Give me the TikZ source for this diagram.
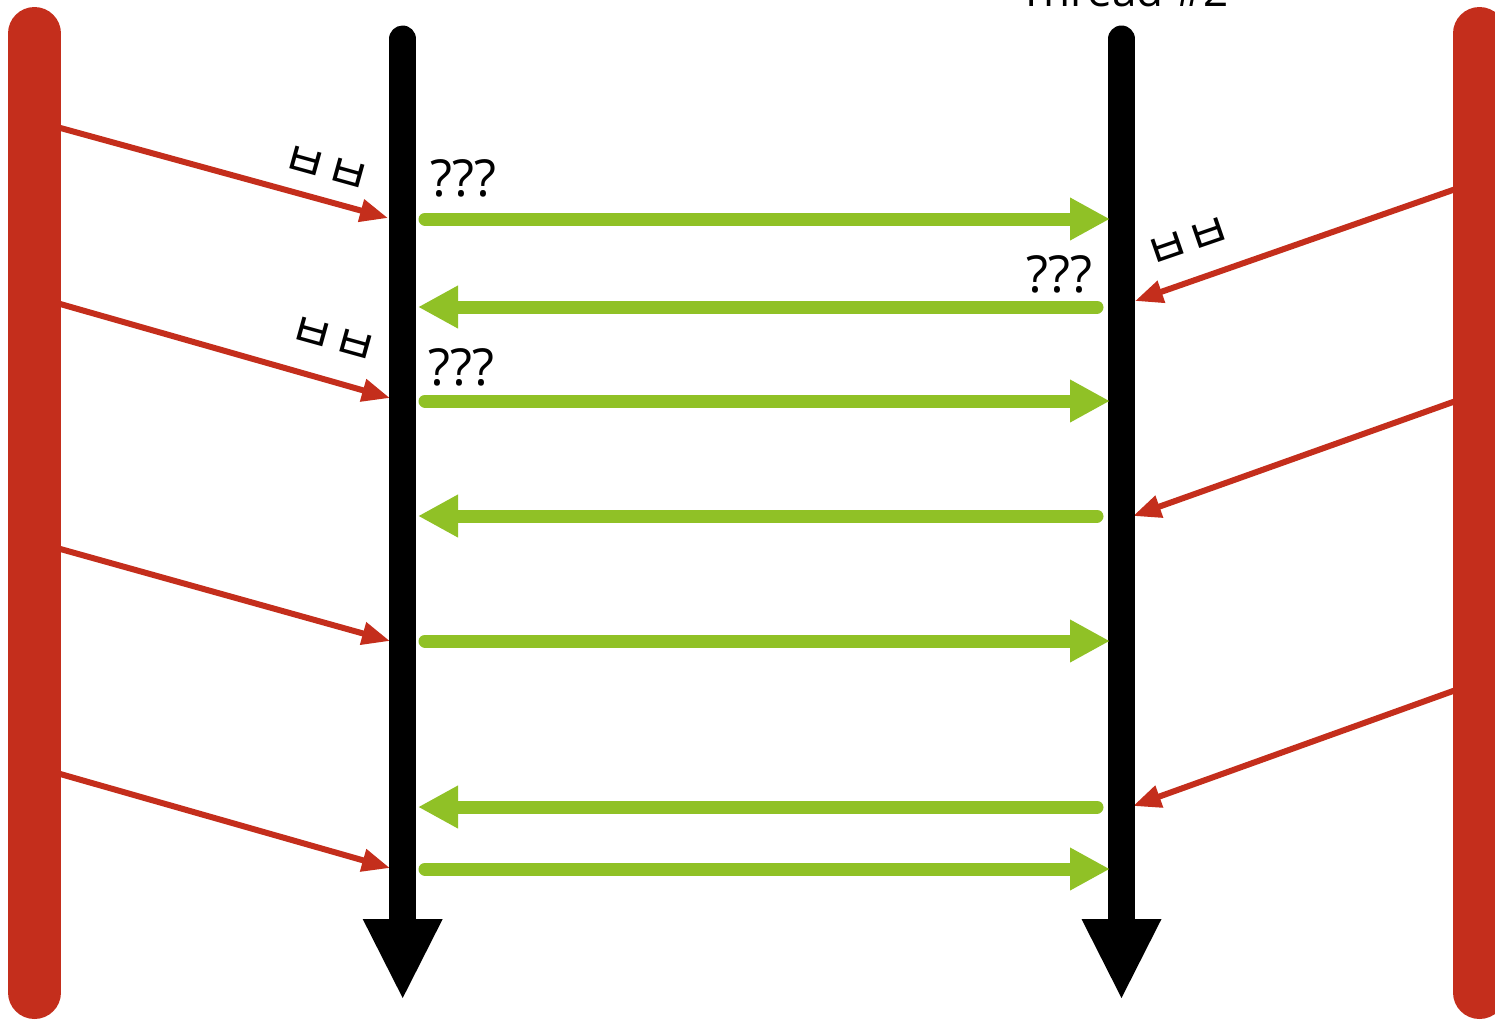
\documentclass[tikz,border=0pt]{standalone}
\usepackage{fontspec}
\setmainfont{Open Sans}
\newfontfamily\krfont{Noto Sans CJK KR}
\usetikzlibrary{arrows.meta}
\definecolor{myred}{RGB}{196,46,28}
\definecolor{mygreen}{RGB}{144,193,38}
\tikzset{
  sidebar/.style={draw=myred,line width=26.5pt,line cap=round},
  threadline/.style={draw=black,line width=13.5pt,line cap=round},
  threadhead/.style={fill=black},
  greenarrow/.style={draw=mygreen,line width=6.5pt,line cap=round,-{Triangle[length=20pt,width=20pt]}},
  redarrow/.style={draw=myred,line width=3pt,-{Triangle[length=14pt,width=11pt]}},
  qlabel/.style={anchor=base west,inner sep=0pt,font=\fontsize{25.5pt}{28pt}\selectfont},
  tlabel/.style={anchor=base,inner sep=0pt,font=\fontsize{22pt}{26pt}\selectfont},
  krlabel/.style={inner sep=0pt,font=\krfont\fontsize{24pt}{28pt}\selectfont},
}
\begin{document}
\begin{tikzpicture}[x=0.5pt,y=-0.5pt]
\useasboundingbox (0,0) rectangle (1495,1019);
% coordinates
\coordinate (LBtop) at (34.5,33.5);
\coordinate (LBbot) at (34.5,992.5);
\coordinate (RBtop) at (1479.5,33.5);
\coordinate (RBbot) at (1479.5,992.5);
\coordinate (T1top) at (402.7,39);
\coordinate (T1base) at (402.7,919);
\coordinate (T1bot) at (402.7,998);
\coordinate (T2top) at (1121.5,39);
\coordinate (T2base) at (1121.5,919);
\coordinate (T2bot) at (1121.5,998);
% red arrows left
\coordinate (la1) at (55,126.5); \coordinate (lb1) at (388,218);
\coordinate (la2) at (55,302.5); \coordinate (lb2) at (390,398);
\coordinate (la3) at (55,547.5); \coordinate (lb3) at (390,641);
\coordinate (la4) at (55,772.5); \coordinate (lb4) at (390,868);
% red arrows right
\coordinate (ra1) at (1460,187.5); \coordinate (rb1) at (1135,301);
\coordinate (ra2) at (1460,399.5); \coordinate (rb2) at (1133,516);
\coordinate (ra3) at (1460,688.5); \coordinate (rb3) at (1133,806);
\draw[redarrow] (la1) -- (lb1);
\draw[redarrow] (la2) -- (lb2);
\draw[redarrow] (la3) -- (lb3);
\draw[redarrow] (la4) -- (lb4);
\draw[redarrow] (ra1) -- (rb1);
\draw[redarrow] (ra2) -- (rb2);
\draw[redarrow] (ra3) -- (rb3);
% side bars
\draw[sidebar] (LBtop) -- (LBbot);
\draw[sidebar] (RBtop) -- (RBbot);
% threads
\draw[threadline] (T1top) -- (T1base);
\fill[threadhead] (T1bot) -- ([xshift=-20pt]T1base) -- ([xshift=20pt]T1base) -- cycle;
\draw[threadline] (T2top) -- (T2base);
\fill[threadhead] (T2bot) -- ([xshift=-20pt]T2base) -- ([xshift=20pt]T2base) -- cycle;
% green arrows
\coordinate (g1a) at (425,219); \coordinate (g1b) at (1110,219);
\coordinate (g2a) at (1097,307); \coordinate (g2b) at (418,307);
\coordinate (g3a) at (425,401); \coordinate (g3b) at (1110,401);
\coordinate (g4a) at (1097,516); \coordinate (g4b) at (418,516);
\coordinate (g5a) at (425,641); \coordinate (g5b) at (1110,641);
\coordinate (g6a) at (1097,807); \coordinate (g6b) at (418,807);
\coordinate (g7a) at (425,869); \coordinate (g7b) at (1110,869);
\draw[greenarrow] (g1a) -- (g1b);
\draw[greenarrow] (g2a) -- (g2b);
\draw[greenarrow] (g3a) -- (g3b);
\draw[greenarrow] (g4a) -- (g4b);
\draw[greenarrow] (g5a) -- (g5b);
\draw[greenarrow] (g6a) -- (g6b);
\draw[greenarrow] (g7a) -- (g7b);
% labels
\node[qlabel] (q1) at (430,196) {???};
\node[qlabel] (q2) at (1026,292) {???};
\node[qlabel] (q3) at (428,385) {???};
\node[tlabel] (th1) at (405,-0.5) {Thread \#1};
\node[tlabel] (th2) at (1124,6) {Thread \#2};
\node[krlabel,rotate=-15.5] (k1) at (326,170) {ㅂㅂ};
\node[krlabel,rotate=-15.5] (k2) at (333,341) {ㅂㅂ};
\node[krlabel,rotate=19] (k3) at (1189,243) {ㅂㅂ};
\end{tikzpicture}
\end{document}
